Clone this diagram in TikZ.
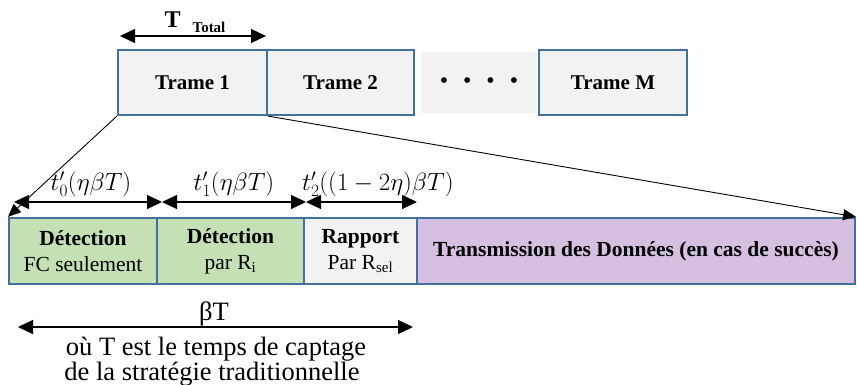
\documentclass[tikz,border=0pt]{standalone}
\usepackage{fontspec}
\setmainfont{Liberation Serif}
\usepackage{tikz}
\usetikzlibrary{arrows.meta}

\definecolor{boxblue}{RGB}{65,113,156}
\definecolor{framegray}{RGB}{242,242,242}
\definecolor{detgreen}{RGB}{197,224,180}
\definecolor{datapurple}{RGB}{213,192,225}

\tikzset{
  framebox/.style={draw=boxblue, line width=2.2pt, fill=framegray, inner sep=0pt,
    minimum height=65pt, font=\bfseries\fontsize{21}{24}\selectfont},
  slotbox/.style={draw=boxblue, line width=2.2pt, inner sep=0pt, align=center,
    minimum height=66pt, font=\fontsize{21.5}{26}\selectfont},
  dimarrow/.style={line width=1.3pt, {Triangle[length=15pt,width=14pt]}-{Triangle[length=15pt,width=14pt]}},
  zoomline/.style={line width=0.9pt, -{Triangle[length=13pt,width=11pt]}},
  timelabel/.style={font=\fontsize{26}{30}\selectfont, inner sep=0pt},
  notetext/.style={font=\fontsize{26.5}{28}\selectfont, inner sep=0pt, anchor=base}
}

\begin{document}
\begin{tikzpicture}[x=1pt,y=-1pt]
\useasboundingbox (0,0) rectangle (857,385);

% Top row: frames
\node[framebox, minimum width=149pt] (trame1) at (192.5,82.5) {Trame 1};
\node[framebox, minimum width=147pt] (trame2) at (340.5,82.5) {Trame 2};
\node[fill=framegray, minimum width=116pt, minimum height=61pt, inner sep=0pt,
  font=\bfseries\fontsize{21}{24}\selectfont] (dots) at (479,82.5)
  {\textbullet\hspace{16pt}\textbullet\hspace{16pt}\textbullet\hspace{16pt}\textbullet};
\node[framebox, minimum width=148pt] (trameM) at (613,82.5) {Trame M};

% Frame length
\coordinate (tl) at (120,36);
\coordinate (tr) at (266,36);
\draw[dimarrow] (tl) -- (tr);
\node[inner sep=0pt] (ttotal) at (195,22)
  {\bfseries\fontsize{24}{26}\selectfont T\hspace{12pt}\raisebox{-5pt}{\fontsize{15}{18}\selectfont Total}};

% Bottom row: slots of one frame
\node[slotbox, fill=detgreen, minimum width=148pt] (det0) at (83,251)
  {\textbf{Détection}\\FC seulement};
\node[slotbox, fill=detgreen, minimum width=147pt] (det1) at (230.5,251)
  {\textbf{Détection}\\par R\textsubscript{i}};
\node[slotbox, fill=framegray, minimum width=113pt] (report) at (360.5,251)
  {\textbf{Rapport}\\Par R\textsubscript{sel}};
\node[slotbox, fill=datapurple, minimum width=438pt] (data) at (636,251)
  {\textbf{Transmission des Données (en cas de succès)}};

% Zoom from frame 1 to the slots
\draw[zoomline] (trame1.south west) -- (det0.north west);
\draw[zoomline] (trame1.south east) -- (data.north east);

% Slot durations
\coordinate (d0) at (14,202);
\coordinate (d1) at (162,202);
\coordinate (d2) at (306,202);
\coordinate (d3) at (417,202);
\draw[dimarrow] (d0) -- (d1);
\draw[dimarrow] (d1) -- (d2);
\draw[dimarrow] (d2) -- (d3);
\node[timelabel] (lab0) at (91,184) {$t'_0(\eta\beta T)$};
\node[timelabel] (lab1) at (234,184) {$t'_1(\eta\beta T)$};
\node[timelabel, anchor=west] (lab2) at (302,184) {$t'_2((1-2\eta)\beta T)$};

% Sensing time
\coordinate (b0) at (18,327);
\coordinate (b1) at (413,327);
\draw[dimarrow] (b0) -- (b1);
\node[notetext] (bt) at (214,320) {βT};
\node[notetext] (note1) at (216,355) {où T est le temps de captage};
\node[notetext] (note2) at (212,380) {de la stratégie traditionnelle};

\end{tikzpicture}
\end{document}
